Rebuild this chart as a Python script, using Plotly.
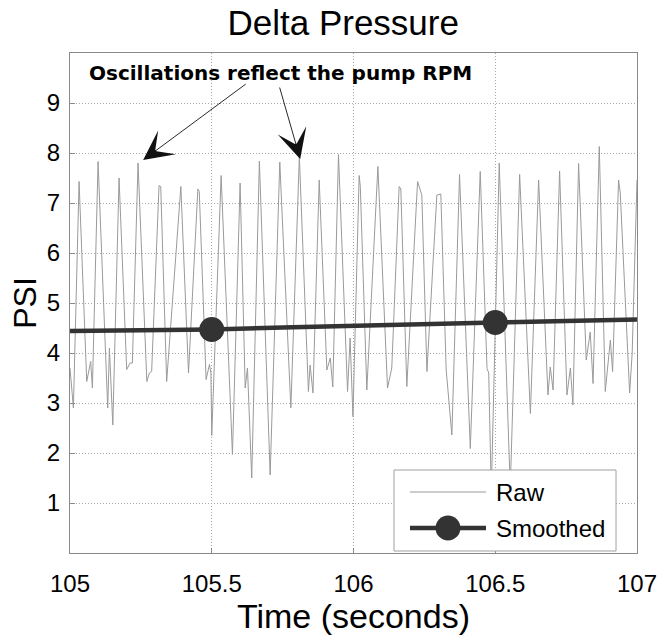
import plotly.graph_objects as go

# ---- data ----
raw_time = [105.000, 105.012, 105.032, 105.059, 105.073, 105.079, 105.099, 105.133, 105.139, 105.151,
            105.173, 105.200, 105.212, 105.220, 105.240, 105.271, 105.280, 105.288, 105.314, 105.320,
            105.341, 105.391, 105.418, 105.451, 105.456, 105.480, 105.492, 105.497, 105.500, 105.533,
            105.573, 105.600, 105.618, 105.626, 105.641, 105.668, 105.706, 105.740, 105.779, 105.809,
            105.841, 105.847, 105.857, 105.879, 105.906, 105.918, 105.927, 105.947, 105.979, 105.988,
            105.998, 106.020, 106.024, 106.047, 106.086, 106.120, 106.135, 106.161, 106.167, 106.188,
            106.226, 106.241, 106.259, 106.294, 106.308, 106.327, 106.347, 106.374, 106.412, 106.447,
            106.471, 106.477, 106.486, 106.514, 106.553, 106.586, 106.624, 106.653, 106.686, 106.694,
            106.704, 106.727, 106.753, 106.765, 106.774, 106.794, 106.821, 106.835, 106.845, 106.867,
            106.888, 106.906, 106.914, 106.935, 106.941, 106.974, 106.983, 107.000]
raw_psi = [3.70, 2.90, 7.43, 3.43, 3.83, 3.30, 7.83, 2.90, 4.10, 2.56,
           7.50, 3.67, 3.80, 3.80, 7.80, 3.43, 3.60, 3.63, 7.35, 7.33,
           3.43, 7.33, 3.60, 7.28, 7.23, 3.47, 3.77, 3.60, 2.35, 7.55,
           1.97, 7.40, 3.30, 3.70, 1.50, 7.84, 1.56, 7.82, 2.90, 7.93,
           3.23, 3.76, 3.20, 7.46, 3.66, 3.90, 3.32, 7.97, 3.23, 4.30,
           2.73, 7.55, 7.33, 3.26, 7.73, 3.30, 3.70, 7.33, 7.28, 3.33,
           7.43, 7.16, 3.63, 7.16, 7.18, 3.66, 2.36, 7.57, 2.09, 7.63,
           3.69, 3.60, 1.20, 7.80, 1.30, 7.57, 2.79, 7.46, 3.16, 3.72,
           3.26, 7.64, 3.16, 3.70, 2.96, 7.79, 3.86, 4.42, 3.39, 8.13,
           3.23, 4.26, 3.63, 7.46, 7.20, 3.20, 4.00, 7.46]

smooth_time = [105.0, 105.25, 105.5, 105.75, 106.0, 106.25, 106.5, 106.75, 107.0]
smooth_psi = [4.44, 4.45, 4.47, 4.51, 4.55, 4.58, 4.61, 4.64, 4.67]
marker_time = [105.5, 106.5]
marker_psi = [4.47, 4.61]

x_ticks = [105, 105.5, 106, 106.5, 107]
x_tick_labels = ["105", "105.5", "106", "106.5", "107"]
y_ticks = [1, 2, 3, 4, 5, 6, 7, 8, 9]

legend_labels = ["Raw", "Smoothed"]
note_text = "Oscillations reflect the pump RPM"
note_pos = (105.741, 9.6)
arrow_heads = [(105.258, 7.86), (105.812, 7.88)]
arrow_tails = [(105.625, 9.4), (105.738, 9.34)]

FONT = "Liberation Sans, Arial, sans-serif"
RAW_COLOR = "#9a9a9a"
SMOOTH_COLOR = "#333333"

fig = go.Figure()
fig.add_trace(go.Scatter(x=raw_time, y=raw_psi, mode="lines", name=legend_labels[0],
                         line=dict(color=RAW_COLOR, width=1)))
fig.add_trace(go.Scatter(x=smooth_time, y=smooth_psi, mode="lines", name=legend_labels[1],
                         line=dict(color=SMOOTH_COLOR, width=4.5)))
fig.add_trace(go.Scatter(x=marker_time, y=marker_psi, mode="markers", name=legend_labels[1],
                         marker=dict(color=SMOOTH_COLOR, size=25), showlegend=False))

annotations = [dict(x=note_pos[0], y=note_pos[1], xref="x", yref="y", text="<b>" + note_text + "</b>",
                    showarrow=False, font=dict(family="DejaVu Sans", size=20, color="black"))]
for (hx, hy), (tx, ty) in zip(arrow_heads, arrow_tails):
    annotations.append(dict(x=hx, y=hy, ax=tx, ay=ty, xref="x", yref="y", axref="x", ayref="y",
                            text="", showarrow=True, arrowhead=3, arrowsize=5.5, arrowwidth=0.9,
                            arrowcolor="#111111", standoff=0))

# custom legend (box, samples, labels) placed in the plot's lower right
LEG = dict(x0=0.5714, x1=0.963, y0=0.004, y1=0.166, sx0=0.5996, sx1=0.7337,
           y_raw=0.122, y_sm=0.05, tx=0.7478)
shapes = [
    dict(type="rect", xref="paper", yref="paper", x0=LEG["x0"], x1=LEG["x1"], y0=LEG["y0"], y1=LEG["y1"],
         fillcolor="white", line=dict(color="#a0a0a0", width=1), layer="above"),
    dict(type="line", xref="paper", yref="paper", x0=LEG["sx0"], x1=LEG["sx1"], y0=LEG["y_raw"], y1=LEG["y_raw"],
         line=dict(color=RAW_COLOR, width=1), layer="above"),
    dict(type="line", xref="paper", yref="paper", x0=LEG["sx0"], x1=LEG["sx1"], y0=LEG["y_sm"], y1=LEG["y_sm"],
         line=dict(color=SMOOTH_COLOR, width=4.5), layer="above"),
    dict(type="circle", xref="paper", yref="paper", xsizemode="pixel", ysizemode="pixel",
         xanchor=(LEG["sx0"] + LEG["sx1"]) / 2, yanchor=LEG["y_sm"], x0=-12.5, x1=12.5, y0=-12.5, y1=12.5,
         fillcolor=SMOOTH_COLOR, line=dict(color=SMOOTH_COLOR, width=0), layer="above"),
]
for label, yy in zip(legend_labels, [LEG["y_raw"], LEG["y_sm"]]):
    annotations.append(dict(x=LEG["tx"], y=yy, xref="paper", yref="paper", xanchor="left", yanchor="middle",
                            text=label, showarrow=False, font=dict(family=FONT, size=24, color="black")))

axis_common = dict(showgrid=True, gridcolor="#a8a8a8", griddash="1px,2px", gridwidth=1,
                   showline=True, linecolor="#8a8a8a", linewidth=1, mirror=True,
                   ticks="inside", ticklen=5, tickcolor="#8a8a8a", zeroline=False,
                   tickfont=dict(family=FONT, size=24, color="black"))

fig.update_layout(
    width=669, height=641,
    margin=dict(l=70, r=32, t=53, b=88, autoexpand=False),
    paper_bgcolor="white", plot_bgcolor="white",
    title=dict(text="Delta Pressure", x=0.513, xanchor="center", y=0.965, yanchor="middle",
               font=dict(family=FONT, size=35, color="black")),
    xaxis=dict(range=[105, 107], tickvals=x_ticks, ticktext=x_tick_labels, ticklabelstandoff=9,
               title=dict(text="Time (seconds)", font=dict(family=FONT, size=34, color="black"), standoff=8),
               **axis_common),
    yaxis=dict(range=[0, 10], tickvals=y_ticks, ticklabelstandoff=4,
               title=dict(text="PSI", font=dict(family=FONT, size=32, color="black"), standoff=0),
               **axis_common),
    annotations=annotations,
    shapes=shapes,
    showlegend=False,
)

fig.write_html("out.html", config={"displayModeBar": False},
               post_script="document.body.style.margin='0px';")
